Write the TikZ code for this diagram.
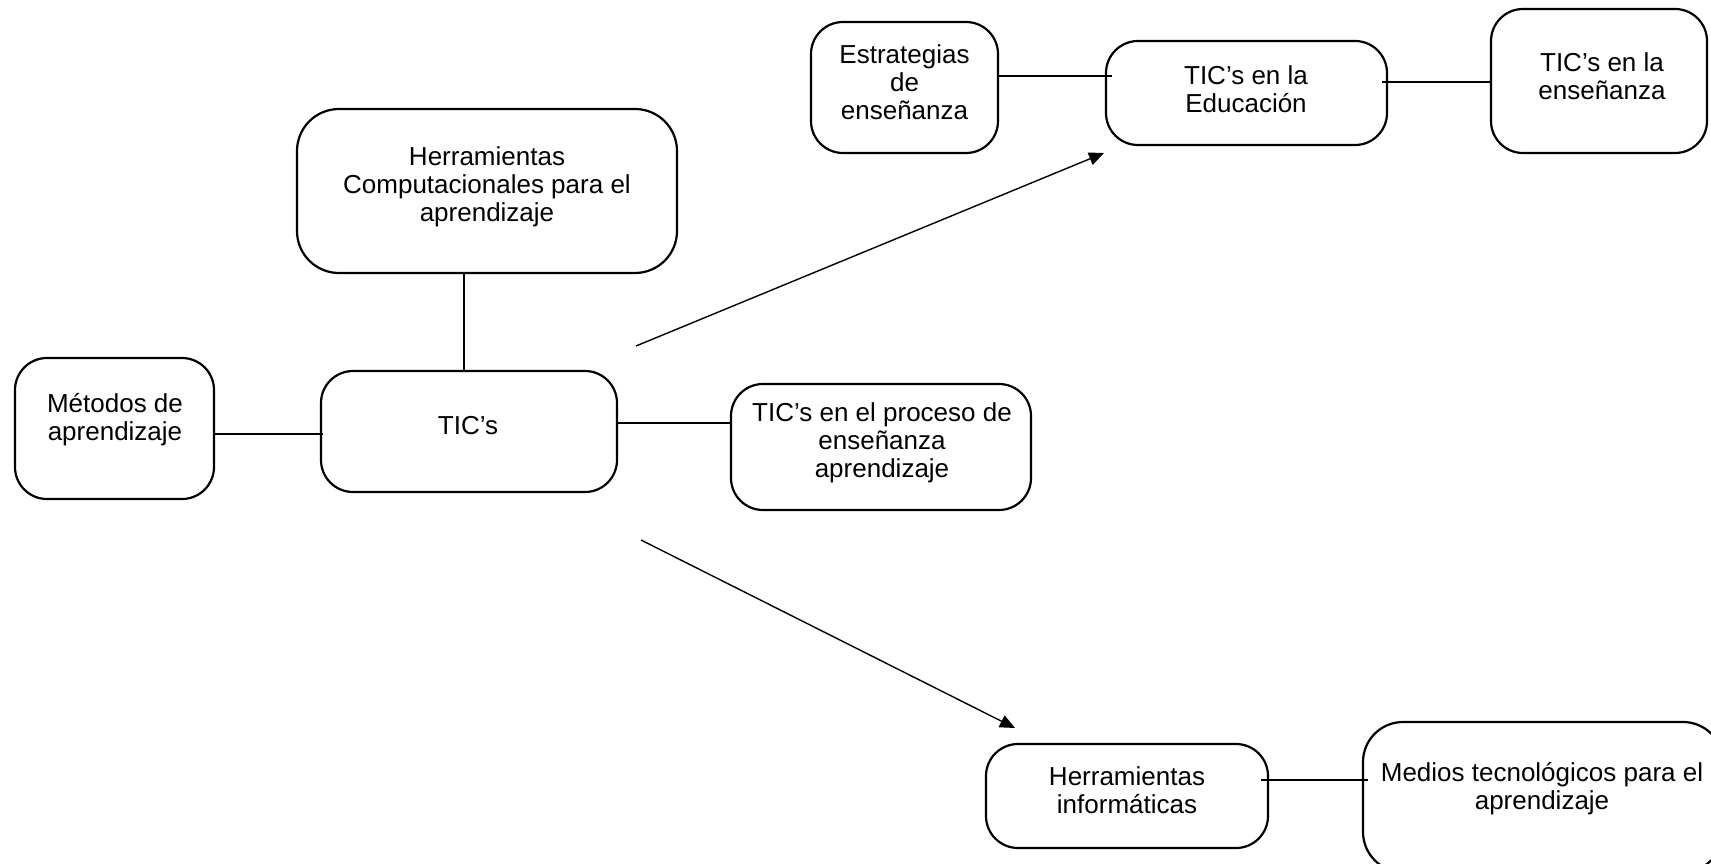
\documentclass[tikz,border=0pt]{standalone}
\usepackage{fontspec}
\setmainfont{Liberation Sans}
\usetikzlibrary{arrows.meta}
\begin{document}
\begin{tikzpicture}[x=1pt,y=-1pt,
  box/.style={draw=black,line width=2.2pt,rounded corners=32pt,inner sep=0pt},
  txt/.style={align=center,inner sep=0pt,font=\fontsize{26}{28}\selectfont},
  link/.style={line width=2pt},
  arr/.style={line width=1.4pt,-{Triangle[length=15pt,width=13pt]}}]
\useasboundingbox (0,0) rectangle (1711,864);
% boxes
\node[box,minimum width=187pt,minimum height=131pt] (estr) at (904.5,87.5) {};
\node[box,minimum width=281pt,minimum height=104pt] (educ) at (1246.5,93) {};
\node[box,minimum width=216pt,minimum height=144pt] (ense) at (1599,81) {};
\node[box,minimum width=380pt,minimum height=164pt,rounded corners=42pt] (hcomp) at (487,191) {};
\node[box,minimum width=199pt,minimum height=141pt] (meto) at (114.5,428.5) {};
\node[box,minimum width=296pt,minimum height=121pt] (tics) at (469,431.5) {};
\node[box,minimum width=300pt,minimum height=126pt] (proc) at (881,447) {};
\node[box,minimum width=282pt,minimum height=104pt] (hinf) at (1127,796) {};
\node[box,minimum width=360pt,minimum height=150pt,rounded corners=40pt] (medi) at (1543,797) {};
% texts
\node[txt] (testr) at (904.5,82) {Estrategias\\de\\enseñanza};
\node[txt] (teduc) at (1246,89) {TIC’s en la\\Educación};
\node[txt] (tense) at (1602,76.5) {TIC’s en la\\enseñanza};
\node[txt] (thcomp) at (487,187) {Herramientas\\Computacionales para el\\aprendizaje};
\node[txt] (tmeto) at (115,420) {Métodos de\\aprendizaje};
\node[txt] (ttics) at (468,426) {TIC’s};
\node[txt] (tproc) at (882,443) {TIC’s en el proceso de\\enseñanza\\aprendizaje};
\node[txt] (thinf) at (1127,790.5) {Herramientas\\informáticas};
\node[txt] (tmedi) at (1542,789) {Medios tecnológicos para el\\aprendizaje};
% connectors
\coordinate (a1s) at (636,346);
\coordinate (a1e) at (1104,153);
\coordinate (a2s) at (641,540);
\coordinate (a2e) at (1015,728);
\draw[link] (estr.east |- 0,76) -- ([xshift=7pt]educ.west |- 0,76);
\draw[link] ([xshift=-6pt]educ.east |- 0,82) -- (ense.west |- 0,82);
\draw[link] (hcomp.south -| 464,0) -- (tics.north -| 464,0);
\draw[link] (meto.east |- 0,434) -- ([xshift=3pt]tics.west |- 0,434);
\draw[link] (tics.east |- 0,423) -- (proc.west |- 0,423);
\draw[link] ([xshift=-8pt]hinf.east |- 0,780) -- ([xshift=6pt]medi.west |- 0,780);
\draw[arr] (a1s) -- (a1e);
\draw[arr] (a2s) -- (a2e);
\end{tikzpicture}
\end{document}
